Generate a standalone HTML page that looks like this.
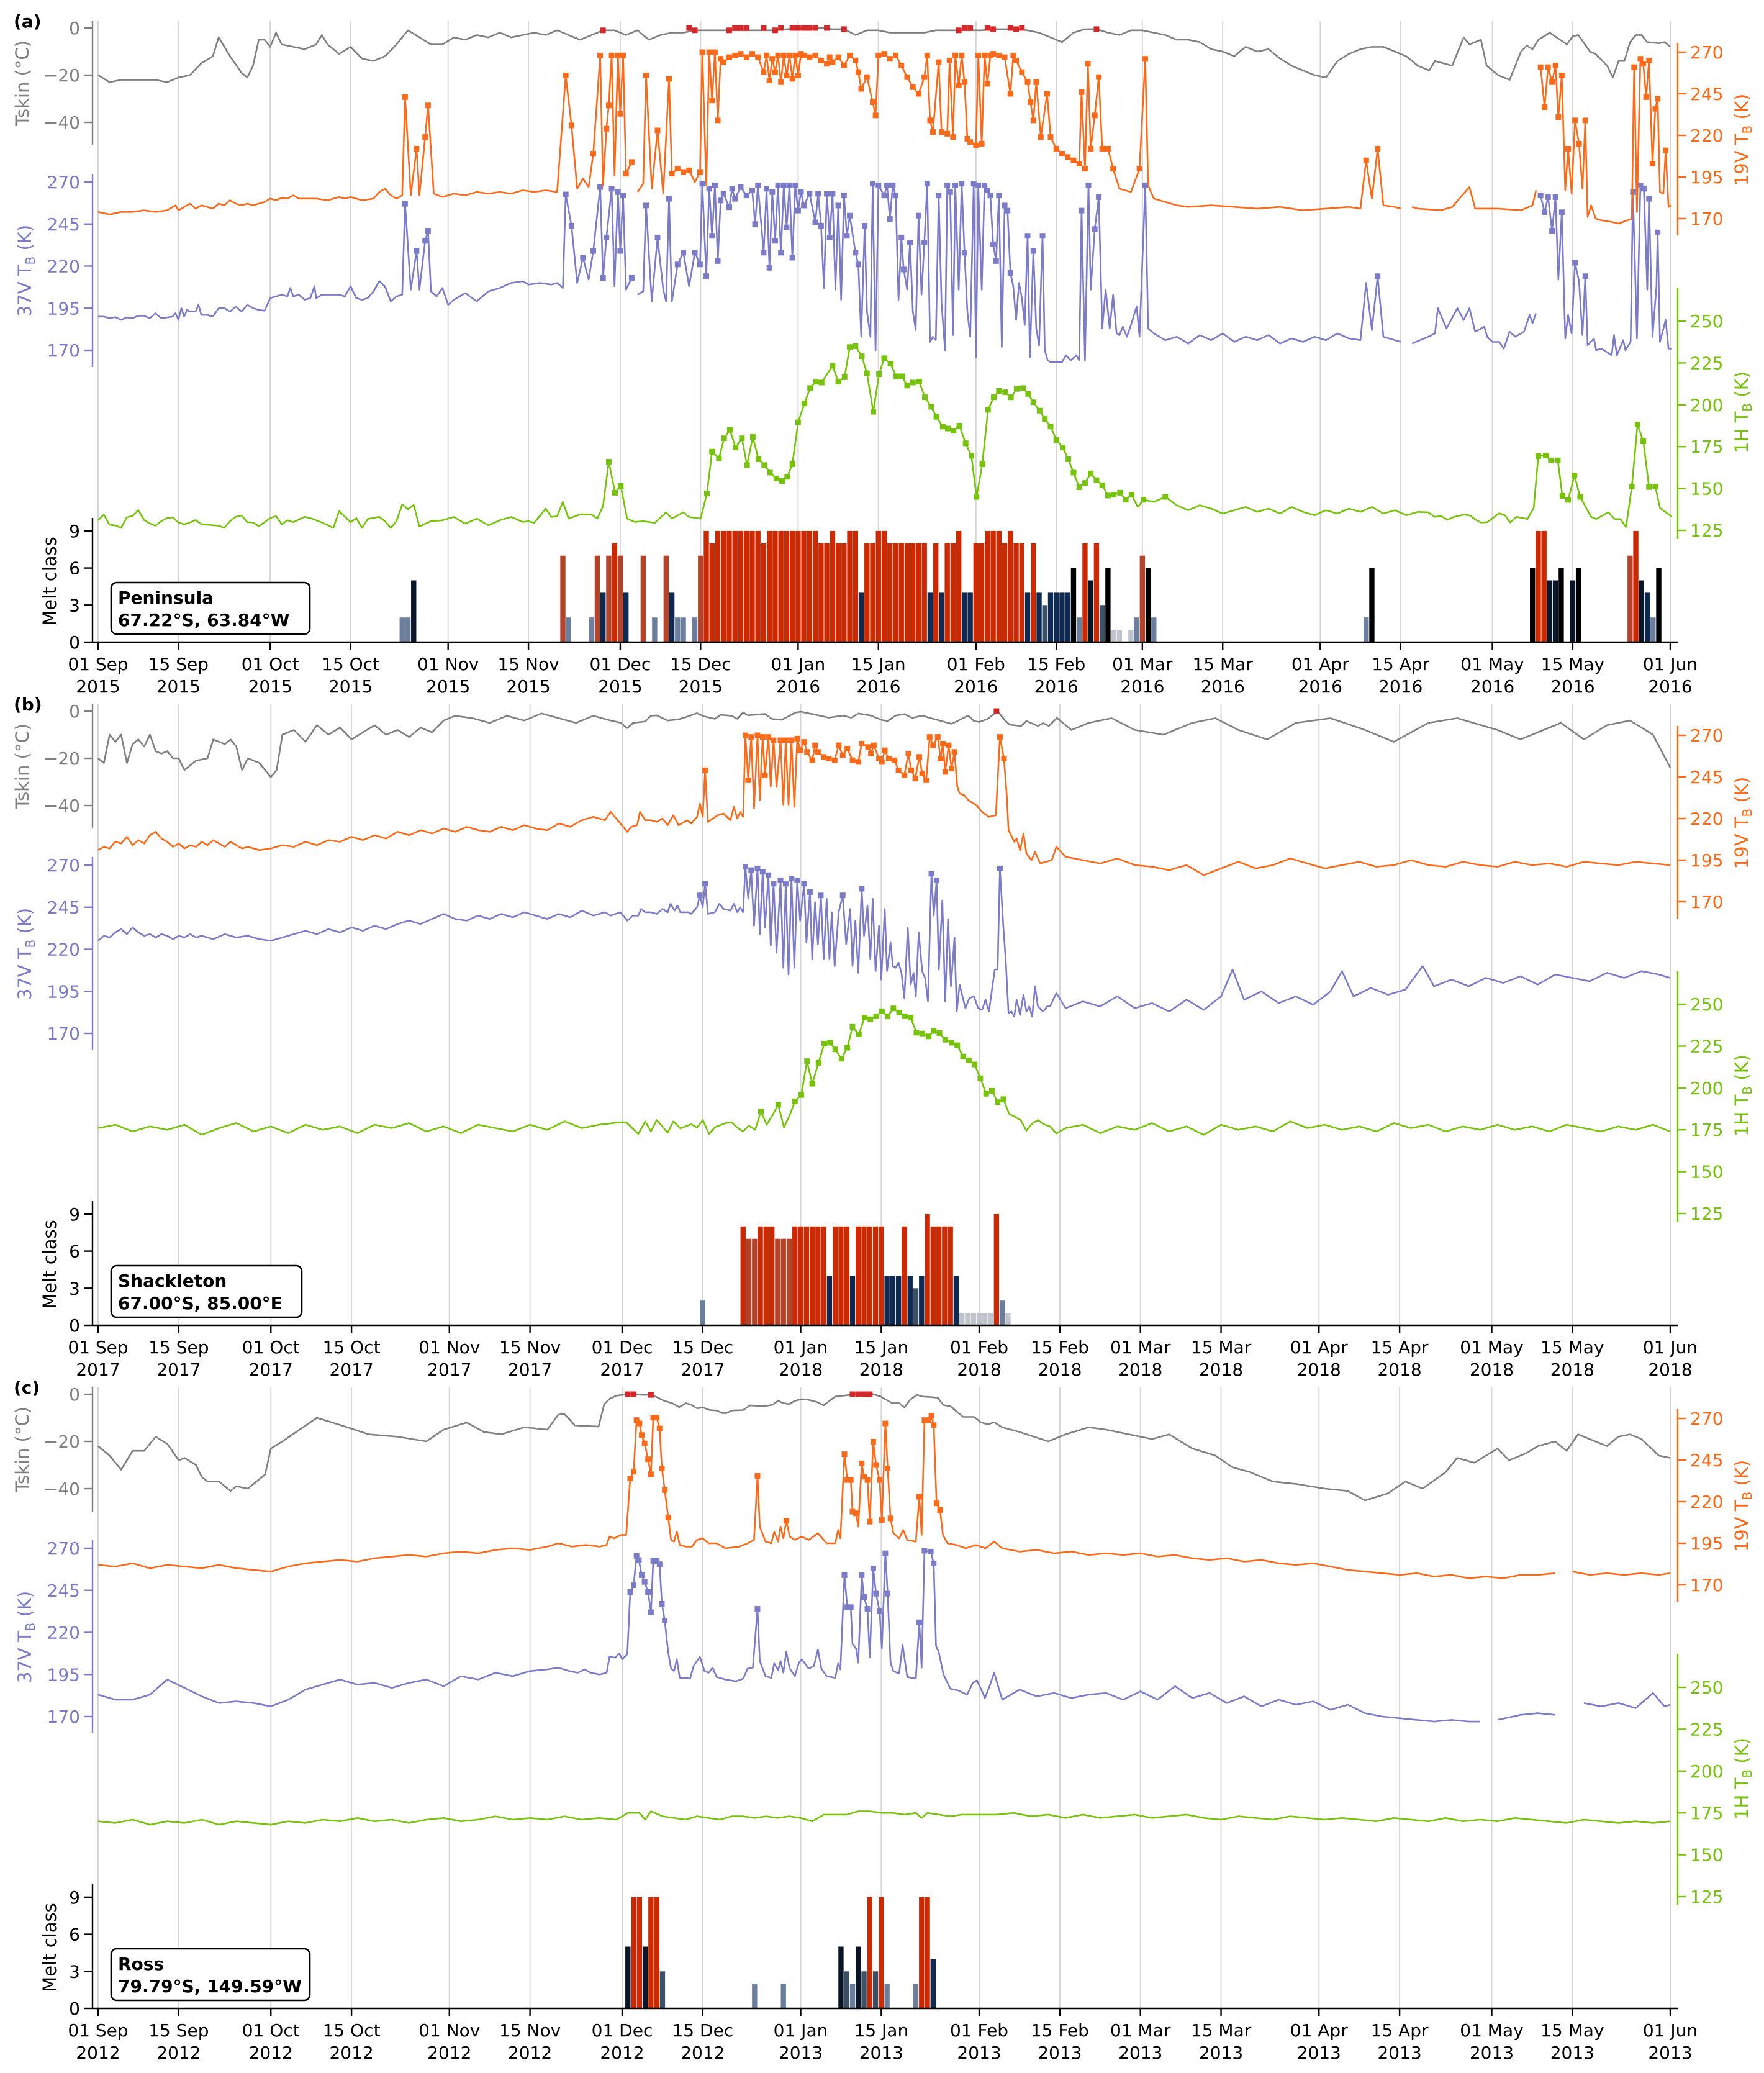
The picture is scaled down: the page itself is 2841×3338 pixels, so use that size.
<!DOCTYPE html>
<html><head><meta charset="utf-8"><title>Melt detection time series</title>
<style>
html,body{margin:0;padding:0;background:#fff;}
svg{display:block;font-family:"DejaVu Sans","Liberation Sans",sans-serif;}
</style></head>
<body>
<svg id="chart" xmlns="http://www.w3.org/2000/svg" width="2841" height="3338" viewBox="0 0 2841 3338"></svg>
<script>
// ===== Shared categories / ticks =====
const tickDaysA = [0,14,30,44,61,75,91,105,122,136,153,167,182,196,213,227,243,257,274];
const tickDaysBC = [0,14,30,44,61,75,91,105,122,136,153,167,181,195,212,226,242,256,273];
const tickMonths = ["01 Sep","15 Sep","01 Oct","15 Oct","01 Nov","15 Nov","01 Dec","15 Dec","01 Jan","15 Jan","01 Feb","15 Feb","01 Mar","15 Mar","01 Apr","15 Apr","01 May","15 May","01 Jun"];
const yearsA = ["2015","2016"], yearsB = ["2017","2018"], yearsC = ["2012","2013"];
const tskinTicks = [0,-20,-40];
const v19Ticks = [270,245,220,195,170];
const v37Ticks = [270,245,220,195,170];
const h1Ticks = [250,225,200,175,150,125];
const meltTicks = [0,3,6,9];

// ===== Panel (a) Peninsula =====
const tsA = [[0,-20],[2,-23],[4,-22],[6,-22],[8,-22],[10,-22],[12,-23],[14,-21],[16,-20],[18,-15],[20,-12],[21,-4],[23,-12],[25,-19],[26,-21],[27,-16],[28,-5],[29,-5],[30,-8],[31,-2],[32,-7],[34,-8],[36,-9],[38,-7],[39,-3],[40,-7],[42,-11],[44,-8],[46,-13],[48,-14],[50,-12],[52,-7],[54,-1],[56,-4],[58,-7],[60,-7],[62,-4],[64,-5],[66,-3],[68,-4],[70,-2],[72,-4],[74,-3],[76,-2],[78,-3],[80,-1],[82,-3],[84,-5],[86,-3],[88,-1],[90,-1],[92,-3],[94,-1],[96,-5],[98,-3],[100,-2],[102,-2],[104,-1],[106,-1],[110,-1],[114,-1],[118,-1],[120,-0.5],[124,0],[126,0],[128,-0.5],[130,-0.5],[132,-3],[134,-1],[136,-1],[138,-2],[140,-2],[142,-2],[144,-2],[146,-1],[150,-1],[154,-1],[156,-0.5],[160,-0.5],[162,-1],[164,-2],[166,-4],[168,-6],[170,-2],[172,-0.5],[174,-0.5],[176,-2],[178,-3],[180,-1],[182,-1],[184,-2],[186,-3],[188,-5],[190,-5],[192,-6],[194,-9],[196,-10],[198,-12],[200,-8],[202,-10],[204,-9],[206,-13],[208,-16],[210,-18],[212,-20],[214,-21],[216,-14],[218,-11],[220,-9],[222,-8],[224,-8],[226,-10],[228,-12],[230,-16],[232,-18],[233,-14],[236,-16],[238,-4],[239,-7],[241,-5],[242,-16],[244,-20],[246,-22],[248,-10],[249,-7.5],[250,-9],[251,-5],[253,-2],[256,-7],[257,-3.5],[258,-3],[260,-10],[261,-11],[263,-16],[264,-21],[265,-14],[266,-14],[267,-6],[268,-3],[269,-3],[270,-6],[272,-6.5],[273,-6],[274,-8]];
const redA = [88,103,104,110,111,112,113,116,118,119,121,122,123,124,125,127,130,150,151,152,155,156,159,160,161,174];
const v19A = [[0,174],[2,172.5],[4,174],[6,174],[8,175],[10,174],[12,175],[13.5,178],[14,175],[15,177],[16,179],[17,176],[18,178],[19,177],[20,176],[21,179],[22,178],[23,181],[24,179],[25,178],[26,179],[27,178],[28,179],[29,180],[30,182],[31,181],[32,182.5],[33,182],[34,184],[35,182],[36,182],[38,182],[40,181],[42,183],[43,182],[44,183],[46,181],[48,182],[49,186],[50,188],[51,184],[52,182],[53,184],[53.5,243],[54.5,184],[55.5,212],[56,184],[57,219],[57.5,238],[58.5,185],[60,183],[62,185],[64,184],[66,186],[68,185],[70,186],[72,185],[74,187],[76,186],[78,187],[80,186],[81.5,256],[82.5,226],[83.5,188],[84.5,194],[85.5,189],[86.3,209],[87.5,268],[88,190],[88.6,224],[89,238],[89.5,268],[90,196],[90.6,268],[91,233],[91.5,268],[92,197],[93,204],[93.5,null],[94,186],[95,191],[95.5,256],[96.5,188],[97.5,223],[98.5,185],[99.5,254],[100,197],[101,200],[102,198],[103,199],[104,192],[104.9,198],[105.3,270],[106,190],[106.5,270],[107,241],[107.5,270],[108,229],[108.5,266],[109,264],[110,267],[111,268],[112,269],[113,267],[114,269],[115,267],[116,258],[116.5,268],[117,253],[117.5,266],[118,258],[118.5,268],[119,252],[119.5,268],[120,256],[120.5,268],[121,254],[121.5,268],[122,256],[122.5,269],[123,268],[124,267],[125,268],[126,265],[127,263],[127.5,267],[128,264],[129,267],[130,262],[131,268],[132,265],[132.5,258],[133,248],[134,255],[135,240],[135.5,232],[136,268],[137,269],[138,266],[139,268],[140,262],[141,255],[142,249],[143,245],[144,255],[144.5,268],[145,229],[145.5,222],[146.5,264],[147,222],[148,221],[148.4,265],[149,219],[149.4,268],[150,250],[150.5,268],[151,252],[151.5,218],[152,216],[153,214],[153.4,268],[154,215],[154.5,268],[155,251],[155.5,268],[156,269],[157,268],[158,267],[159,245],[159.5,268],[160,265],[161,258],[162,252],[162.5,240],[163,229],[163.5,252],[164.3,219],[165.4,245],[166,219],[167,212],[168,209],[169,207],[170,205],[171,203],[171.4,246],[172,200],[172.5,263],[173,212],[173.7,232],[174.4,255],[175,212],[176,212],[176.9,200],[178,188],[180,186],[181.5,200],[182.5,266],[183,190],[184,182],[186,180],[188,178],[190,177],[194,178],[198,177],[202,176],[206,177],[210,175],[214,176],[218,177],[220,176],[221,205],[222,182],[223,212],[224,178],[226,177],[227,176],[228,null],[229,177],[230,176],[234,175],[236,177],[239,189],[240,176],[244,176],[248,175],[250,178],[250.6,187],[251,null],[251.4,261],[252.1,237],[252.7,261],[253.4,252],[254,262],[254.5,231],[255.1,256],[255.7,187],[256.2,212],[256.8,185],[257.4,229],[258.1,215],[258.7,188],[259.2,229],[259.6,171],[260.2,178],[261,170],[262,169],[263.8,168],[265,167],[267.3,170],[267.7,261],[268.2,174],[268.8,266],[269.3,263],[269.8,243],[270.3,265],[270.9,203],[271.4,236],[271.8,242],[272.2,186],[272.8,185],[273.2,211],[273.7,177],[274.2,178]];
const v37A = [[0,190],[1,190],[2,189],[3,189.7],[4,188],[5,189.5],[6,189],[7,190.5],[8,190.5],[9,189],[10,192],[11,189],[12,189.5],[13,190],[13.5,192],[14,188],[14.5,195],[15,190],[15.5,194],[16,193],[17,193],[17.5,197],[18,191],[19,191],[20,190],[21,195],[22,195],[23,193],[24,196],[25,193],[26,197],[27,195],[28,194],[29,193.5],[30,201],[31,202],[32,203],[33,202],[33.5,207],[34,202],[35,203],[36,200],[37,201],[37.7,208],[38,201],[39,203],[40,203],[42,203],[43,202],[44,208],[45,201],[46,200],[47,201],[48,205],[49,211],[50,208],[51,199],[52,202],[53,203],[53.5,257],[54.5,206],[55.5,229],[56,206],[57,235],[57.5,241],[58,205],[59,202],[60,207],[61,197],[62,200],[64,204],[66,199],[68,205],[70,207],[72,210],[74,211],[75,209],[77,210],[79,209],[80,210],[81,207],[81.5,262.6],[82.5,244],[83.5,210],[84.5,225],[85.5,212],[86.3,229],[87.5,267],[88,213],[88.6,237],[89.5,266],[90,208],[90.6,264],[91,229],[91.5,262],[92,206],[93,213],[93.5,null],[94,203],[95,205],[95.5,256],[96.5,199],[97.5,237],[98.5,206],[99,199],[99.5,260],[100,199],[101,221],[102,228],[103,208],[104,228],[104.9,221],[105.3,269],[106,214],[106.5,266],[107,238],[107.5,268],[108,223],[108.5,259],[109,263],[110,255],[110.5,266],[111,260],[112,267],[113,262],[114,265],[114.5,245],[115,268],[116,228],[116.5,266],[117,219],[117.5,264],[118,235],[118.5,268],[119,228],[119.5,268],[120,243],[120.5,268],[121,225],[121.5,268],[122,253],[122.5,264],[123,256],[124,263],[125,246],[125.5,263],[126,244],[126.5,207],[127,263],[127.5,237],[128,263],[128.5,206],[129,256],[129.5,200],[130,262],[130.5,238],[131,250],[132,228],[132.5,221],[133,178],[133.6,244],[134,193],[134.6,178],[135,269],[135.5,170],[136,268],[137,262],[137.5,268],[138,248],[138.5,268],[139,262],[139.5,200],[140,237],[140.4,218],[141,206],[141.5,234],[142,193],[142.5,182],[143,250],[143.5,203],[144,234],[144.5,269],[145,175],[145.5,178],[146,176],[146.5,262],[147,198],[147.6,170],[148,268],[148.5,264],[149,179],[149.4,268],[150,206],[150.5,269],[151,228],[151.5,193],[152,178],[152.6,269],[153,166],[153.4,268],[154,206],[154.5,268],[155,265],[155.5,262],[156,233],[156.5,223],[157,262],[157.5,172],[158,256],[158.5,253],[159,216],[159.5,208],[160,188],[160.5,210],[161,201],[161.5,185],[162,238],[162.4,166],[163,229],[163.5,183],[164,173],[164.6,238],[165,170],[165.5,164],[166,163],[168,163],[168.7,167],[169.5,164],[170.5,167],[171,164],[171.4,253],[172,164],[172.6,268],[173,206],[173.7,242],[174.4,261],[175,183],[175.6,206],[176.3,183],[176.9,203],[177.5,180],[178,179],[178.6,184],[179.3,178],[180,185],[181,196],[181.5,178],[182.5,268],[183,183],[184,180],[186,176],[188,178],[190,174],[192,179],[194,176],[196,180],[198,175],[200,178],[202,176],[204,179],[206,174],[208,177],[210,175],[212,178],[214,176],[216,180],[218,177],[220,176],[221,210],[222,182],[223,214],[224,178],[226,176],[227,175],[228,null],[229,174],[231.8,178],[233,180],[233.5,195],[235,183],[236.9,195],[238,188],[239,195],[240,181],[241.6,184],[242.1,178],[243,175],[244.2,175],[245,171],[246,181],[247,178],[248.5,181],[249.5,191],[250,186],[250.6,192],[251,null],[251.4,262],[252.1,252],[252.7,261],[253.4,241],[254,261],[254.5,212],[255.1,252],[255.7,177],[256.2,191],[256.8,180],[257.4,222],[258.1,211],[258.7,179],[259.2,214],[259.6,173],[260.7,177],[261.1,170],[262,171],[263.8,167],[264.2,179],[264.7,167],[265.8,176],[266.2,170],[267.1,175],[267.5,264],[268.2,177],[268.8,268],[269.4,266],[270,206],[270.3,260],[270.9,178],[271.6,208],[271.8,240],[272.2,175],[273.2,188],[273.7,171],[274.3,171]];
const h1A = [[0,131],[1,134.4],[2,128.3],[3,128],[4,126.5],[5,132.8],[6,133.6],[7,137.1],[8,131.2],[9,129.1],[10,127.8],[11,130.5],[12,132.3],[13,132.8],[14,129.7],[15,128.6],[16,129.7],[17,131.2],[18,128.6],[21,127.8],[22,126.5],[23,130.5],[24,133.1],[25,133.9],[26,129.9],[27,129.7],[28,127.5],[30,132.3],[31,133.6],[32,128.6],[33,131],[34,129.9],[36,133.1],[37,132.3],[39,129.7],[41,126.5],[42,136.5],[44,129.9],[45,132.3],[46,126.5],[47,131.8],[49,133.1],[50,130.5],[51,126.5],[52,130.5],[53,140.5],[54,137.6],[55,140.2],[56,127.3],[58,130.5],[60,131],[62,133],[64,129],[66,132],[68,128],[70,131],[72,133],[74,130],[75,130.5],[76,129.5],[78,138],[79,133],[80,133.5],[81,142],[82,132],[84,134.5],[86,134.5],[87,132],[88,139.5],[89,166],[90.1,147.5],[91.1,151.5],[92.2,132],[93.5,130],[95,130.5],[97,129.5],[99,135.8],[100,132],[102,135.8],[103,133],[105,132],[106.1,147],[107,172],[108.2,168],[109.1,180],[110.1,185],[111.1,174.5],[112.2,180],[113.1,164],[114.1,180.8],[115.1,167.5],[116.1,164],[117.1,159.5],[118.2,156],[119.2,154.5],[120.1,157],[121,164.5],[122,189.5],[123.1,200.8],[124.1,210],[125.1,213.8],[126.1,213.3],[128,223.3],[129,213.8],[130.1,216.5],[131,234.5],[132,235],[133.1,229],[134,218.8],[135.1,195.8],[136.1,218.3],[137,227.8],[138.1,224.5],[139.1,217],[140.1,217],[141,211.5],[142,213.3],[143.1,213.8],[144.1,204.5],[145.2,198.8],[146.1,192.8],[147.2,187],[148.1,185.8],[149.1,184.5],[150.1,187.5],[151.2,177],[152.2,169.5],[153.1,145],[154.1,164.5],[155.1,197],[156.1,204.5],[157,208.3],[158.1,207.5],[159.1,204.5],[160.1,209.5],[161.2,210],[162.1,206.5],[163,201.5],[164.1,196.5],[165,191.5],[166,187],[167,179],[168.1,174.5],[169.1,167.5],[170,159.5],[171,150.8],[172,153.3],[173,159],[174,155],[175,152],[176,145.8],[177,146.3],[178.1,147.5],[179.1,143.3],[180.1,146.3],[181.2,139],[182.2,143.3],[184,142],[186,145],[188,140],[190,137],[192,140],[194,138],[196,135],[198,137],[200,139],[202,136],[204,138],[206,135],[208,139],[210,136],[212,134],[214,137],[216,135],[218,138],[220,136],[222,139],[224,135],[226,137],[228,134],[230,136],[231.8,135.8],[233,133],[234,133.6],[235.2,131.3],[236.3,133],[238,134.4],[239.1,133.9],[240.1,131.3],[241,129.7],[242.1,129.9],[244.2,135.2],[245.2,133.9],[246.1,129.7],[247.2,133.1],[249.1,131.8],[250.2,138.4],[251,169.4],[252.3,169.7],[253.2,166.8],[254.4,166.8],[255.2,145.6],[256.2,143.2],[257.3,157.7],[258.3,145],[260.2,133.1],[261.1,131.8],[263.2,135.8],[264.3,131.8],[265.3,131.8],[266.3,127],[267.3,151.1],[268.3,188.2],[269.3,178.2],[270.3,150.9],[271.4,151.1],[272.2,138.4],[274.3,133.1]];
const meltA = [[53,2],[54,2],[55,5],[81,7],[82,2],[86,2],[87,7],[88,4],[89,7],[90,8],[91,7],[92,4],[95,7],[97,2],[99,7],[100,4],[101,2],[102,2],[104,2],[105,7],[106,9],[107,8],[108,9],[109,9],[110,9],[111,9],[112,9],[113,9],[114,9],[115,9],[116,8],[117,9],[118,9],[119,9],[120,9],[121,9],[122,9],[123,9],[124,9],[125,9],[126,8],[127,8],[128,9],[129,8],[130,8],[131,9],[132,9],[133,4],[134,8],[135,8],[136,9],[137,9],[138,8],[139,8],[140,8],[141,8],[142,8],[143,8],[144,8],[145,4],[146,8],[147,4],[148,8],[149,8],[150,9],[151,4],[152,4],[153,8],[154,8],[155,9],[156,9],[157,9],[158,8],[159,9],[160,8],[161,8],[162,4],[163,8],[164,4],[165,3],[166,4],[167,4],[168,4],[169,4],[170,6],[171,2],[172,8],[173,5],[174,8],[175,3],[176,6],[177,1],[178,1],[180,1],[181,2],[182,7],[183,6],[184,2],[221,2],[222,6],[250,6],[251,9],[252,9],[253,5],[254,5],[255,6],[257,5],[258,6],[267,7],[268,9],[269,5],[270,4],[271,2],[272,6]];

// ===== Panel (b) Shackleton =====
const tsB = [[0,-20],[1,-22],[2,-10],[3,-13],[4,-10],[5,-22],[6,-14],[7,-12],[8,-15],[9,-10],[10,-17],[11,-18],[12,-17],[13,-20],[14,-20],[15,-25],[17,-21],[19,-20],[20,-12],[22,-14],[23,-12],[24,-15],[25,-25],[26,-20],[28,-22],[30,-28],[31,-25],[32,-10],[34,-8],[36,-13],[38,-6],[40,-10],[42,-7],[44,-12],[46,-9],[48,-6],[50,-10],[52,-8],[54,-11],[56,-7],[58,-9],[60,-4],[62,-2],[65,-3],[68,-5],[71,-2],[74,-4],[77,-1],[80,-3],[83,-5],[86,-2],[89,-4],[90.7,-4.9],[91.9,-7.2],[92.9,-5],[95,-4.4],[96,-2],[97,-1.8],[98.9,-4],[100.8,-3.5],[102,-2.6],[104,-0.9],[105.2,-2.2],[107.1,-3.3],[108.1,-1.6],[110,-2],[111,-3.3],[112,-0.6],[112.9,-1.8],[115.8,-1.2],[117,-3.3],[118.7,-3.7],[121.1,-0.6],[122.1,-0.3],[124.5,-1.5],[126.9,-2.8],[129.3,-1.9],[130.8,-2.8],[132,-1],[134.2,-1.9],[136.1,-3.8],[137.1,-4.2],[138.5,-1.9],[140,-1.3],[141.4,-2.9],[143.1,-1.9],[144.3,-2.8],[145.8,-3.8],[148.2,-5.4],[149.2,-4.2],[151.1,-1.9],[152.1,-4.2],[153,-4.6],[154.5,-3.3],[156.2,0],[157.4,-3.7],[158.3,-5.8],[160.3,-6.3],[161.2,-4.2],[163.2,-6.3],[164.1,-5.1],[165.1,-6.3],[166.5,-2.9],[169,-8],[172,-5],[176,-3],[180,-8],[185,-10],[190,-5],[194,-3],[198,-8],[203,-12],[208,-5],[214,-3],[220,-8],[225,-13],[231,-5],[236,-3],[243,-8],[247,-12],[254,-5],[258,-12],[262,-6],[266,-4],[270,-10],[273,-24]];
const redB = [156];
const v19B = [[0,201],[1,203],[2,202],[3,206],[4,205],[5,209],[6,204],[7,207],[8,205],[9,210],[10,212],[11,208],[12,206],[13,203],[14,205],[15,202],[16,204],[17,203],[18,206],[19,204],[20,207],[21,205],[22,203],[23,206],[24,204],[25,202],[26,203],[28,201],[30,202],[32,204],[34,203],[36,206],[38,204],[40,207],[42,206],[44,209],[46,207],[48,210],[50,208],[52,212],[54,210],[56,213],[58,211],[60,214],[62,212],[64,215],[66,213],[68,212],[70,215],[72,213],[74,216],[76,214],[78,213],[80,217],[82,215],[84,219],[86,221],[88,219],[89,224],[90.7,217],[91.9,212],[92.6,215],[93.6,216],[94.1,224],[95,219],[96,219],[97,218],[98,220],[98.9,216],[99.9,222],[100.8,216],[102.3,219],[103,217],[104,221],[104.5,229],[105,221],[105.4,249],[105.9,218],[107.6,222],[108.6,223],[109.8,219],[110.4,227],[111,220],[111.5,224],[112,221],[112.4,270],[112.9,243],[113.4,269],[113.9,226],[114.5,270],[114.9,231],[115.4,269],[115.8,246],[116.4,269],[116.8,239],[117.3,267],[117.8,239],[118.5,267],[119,228],[119.4,267],[119.9,228],[120.4,267],[120.9,227],[121.4,268],[121.9,261],[122.6,266],[123.1,260],[124,255],[124.5,264],[125,260],[126,257],[126.9,256],[127.9,255],[128.6,264],[129.3,258],[130.1,262],[131,255],[132,254],[132.6,265],[133.7,263],[134.2,259],[134.7,264],[135.6,256],[136.1,254],[136.6,261],[137.3,256],[138.3,255],[139,249],[140,246],[140.7,259],[141.2,249],[141.9,244],[142.6,257],[143.1,247],[143.8,243],[144.4,269],[145,264],[145.8,269],[146.3,256],[146.7,265],[147.1,248],[147.7,264],[148.2,250],[148.7,260],[149.2,239],[149.6,235],[150.4,234],[151.1,231],[152.5,228],[153.5,224],[154.7,221],[155.9,222],[156.6,269],[157.3,256],[157.8,233],[158.1,213],[159.1,206],[159.5,208],[160.1,201],[160.7,211],[161.2,199],[162.1,195],[162.7,200],[163.6,193],[165.6,195],[166.4,203],[168,197],[171,195],[174,193],[177,196],[180,192],[183,191],[186,189],[189,192],[192,186],[195,190],[198,194],[201,190],[204,192],[207,196],[210,193],[213,190],[216,192],[219,194],[222,191],[225,192],[228,195],[231,192],[234,191],[237,194],[240,192],[243,191],[246,194],[249,192],[252,193],[255,191],[258,194],[261,193],[264,192],[267,194],[270,193],[273,192]];
const v37B = [[0,225],[1,228],[2,227],[3,230],[4,232],[5,229],[6,233],[7,230],[8,228],[9,229],[10,227],[11,229],[12,228],[13,226],[14,228],[15,227],[16,229],[17,227],[18,228],[20,226],[22,229],[24,227],[26,228],[28,226],[30,225],[32,227],[34,229],[36,231],[38,229],[40,232],[42,230],[44,233],[46,231],[48,234],[50,232],[52,235],[54,237],[56,235],[58,238],[60,241],[62,238],[64,237],[66,240],[68,238],[70,241],[72,239],[74,242],[76,240],[78,238],[80,241],[82,239],[84,243],[86,240],[88,242],[89,240],[90.7,242],[91.9,237],[92.9,240],[93.8,240],[94.3,244],[95,242],[96,242],[97,241],[98,244],[98.9,242],[99.4,247],[100.1,243],[100.6,246],[101.1,242],[102.5,242],[103,241],[104,245],[104.5,252],[105,245],[105.4,259],[105.9,241],[107.1,242],[107.9,247],[108.6,244],[109.8,243],[110.4,247],[111,242],[111.5,245],[112,242],[112.4,269],[112.9,250],[113.4,267],[113.9,234],[114.5,268],[114.9,229],[115.4,266],[115.8,233],[116.4,264],[116.8,222],[117.3,259],[117.8,218],[118.5,261],[119,209],[119.4,259],[119.9,205],[120.4,262],[120.9,209],[121.4,261],[121.9,237],[122.6,259],[123,224],[123.6,254],[124,214],[124.5,248],[125,223],[125.5,252],[126,214],[126.5,250],[127,214],[127.4,242],[127.9,210],[128.6,242],[129.3,252],[129.9,223],[130.6,244],[131,210],[131.5,237],[132,206],[132.6,256],[133,228],[133.6,246],[134.1,214],[134.5,250],[135,207],[135.6,234],[136,202],[136.6,244],[137,207],[137.6,224],[138,210],[138.5,209],[139,212],[139.5,206],[140,191],[140.6,233],[141.1,199],[141.6,206],[142,192],[142.5,230],[143.1,207],[143.6,203],[144.1,189],[144.7,265],[145.1,240],[145.6,261],[146,208],[146.6,249],[147.1,189],[147.6,238],[148.1,198],[148.7,227],[149.1,183],[149.6,199],[150.6,185],[151.3,191],[152.1,192],[152.8,185],[153.5,184],[154.1,190],[154.7,183],[155.7,208],[156.2,208],[156.6,268],[157.2,233],[157.6,214],[158.1,182],[158.6,183],[159.1,180],[159.5,190],[160.1,181],[160.7,193],[161.2,183],[161.7,186],[162.2,180],[162.7,198],[163.2,186],[164.1,183],[164.8,186],[165.3,186],[166.4,194],[168,185],[171,189],[174,186],[177,192],[180,185],[183,188],[186,183],[189,190],[192,184],[195,192],[197,208],[199,190],[202,195],[205,188],[208,192],[211,187],[214,195],[216,207],[218,192],[221,197],[224,193],[227,196],[230,210],[232,198],[235,202],[238,198],[241,203],[244,200],[247,204],[250,199],[253,205],[256,203],[259,201],[262,206],[265,203],[268,207],[271,205],[273,203]];
const h1B = [[0,176],[3,178],[6,174],[9,177],[12,175],[15,178],[18,172],[21,176],[24,179],[27,174],[30,177],[33,173],[36,178],[39,175],[42,177],[45,173],[48,178],[51,176],[54,179],[57,174],[60,177],[63,173],[66,178],[69,176],[72,174],[75,178],[78,175],[81,180],[84,176],[87,178],[90.7,179.5],[91.7,179.5],[93.8,172.5],[95,180],[96,174],[97,180.8],[98.9,173.3],[99.9,180],[101.1,175.8],[103,178.3],[104,176.3],[105,180.8],[106.1,172.5],[107.1,176.5],[109,179],[110,179.5],[111,176.3],[112,174],[113,177.5],[114.1,175],[115.1,186],[116.1,178],[117,183],[118.1,190],[119.1,176.5],[120.1,183.8],[121,192],[122.1,195.8],[123.1,216],[124,202.5],[125.1,215],[126.1,226.5],[127.1,227],[128,223],[129.1,217.5],[130.1,224],[131,236.5],[132.1,232],[133.1,242],[134.1,241],[135.1,242.8],[136.1,245.8],[137.1,242.8],[138.1,247.5],[139.1,245],[140.1,242.8],[141.1,242],[142.1,233],[143.1,232.5],[144.2,230.8],[145.1,234],[146.1,232.8],[147.1,228.8],[148.2,227],[149.2,225.5],[150.2,218.8],[151.2,216.5],[152.2,214],[153.2,205.8],[154.2,196.5],[155.2,198.3],[156.2,191.5],[157.2,193.3],[158.2,184.5],[159.2,182.8],[160.2,180.8],[161.2,174.5],[162.2,178.8],[163.2,180.8],[164.2,178.3],[165.3,177],[166.4,172.8],[168,176],[171,178],[174,173],[177,177],[180,175],[183,179],[186,174],[189,177],[192,172],[195,178],[198,175],[201,177],[204,174],[207,180],[210,176],[213,178],[216,175],[219,177],[222,174],[225,179],[228,176],[231,178],[234,174],[237,177],[240,175],[243,178],[246,175],[249,177],[252,174],[255,178],[258,176],[261,174],[264,177],[267,175],[270,178],[273,174]];
const meltB = [[105,2],[112,8],[113,7],[114,7],[115,8],[116,8],[117,8],[118,7],[119,7],[120,7],[121,8],[122,8],[123,8],[124,8],[125,8],[126,8],[127,4],[128,8],[129,8],[130,8],[131,4],[132,8],[133,8],[134,8],[135,8],[136,8],[137,4],[138,4],[139,4],[140,8],[141,4],[142,3],[143,4],[144,9],[145,8],[146,8],[147,8],[148,8],[149,4],[150,1],[151,1],[152,1],[153,1],[154,1],[155,1],[156,9],[157,2],[158,1]];

// ===== Panel (c) Ross =====
const tsC = [[0,-22],[2,-26],[4,-32],[6,-24],[8,-24],[10,-18],[12,-21],[14,-28],[15,-27],[17,-30],[18,-35],[19,-37],[21,-37],[23,-41],[24,-39],[26,-40],[29,-34],[30,-23],[32,-20],[35,-15],[38,-10],[42,-13],[47,-17],[52,-18],[57,-20],[60,-15],[64,-12],[67,-16],[70,-17],[74,-14],[78,-15],[79.9,-8.7],[80.9,-8.3],[81.8,-10.5],[82.8,-13.2],[86.9,-13.7],[87.9,-4.2],[88.8,-2],[90,-0.6],[92,0],[93.2,0.1],[94.4,-0.3],[95.8,-0.3],[96.8,-1],[98.3,-2.8],[99.7,-3.8],[100.9,-5.5],[102.1,-3.8],[103.1,-4.6],[104,-6],[105,-5.6],[106.2,-6.7],[107.4,-6.9],[108.4,-8],[109.1,-8],[110.1,-6.9],[112,-6.7],[113.2,-4.7],[115.6,-5.1],[117.1,-4.5],[118.1,-2.8],[119,-3.8],[120,-4.2],[121,-2.8],[122.2,-2.1],[123.4,-2.4],[124.8,-3.3],[126,-4.7],[127,-2.8],[128,-1],[130.6,-0.3],[131.1,0.1],[132.3,0.1],[134.2,0.3],[135.9,-1],[137.9,-3.8],[139.1,-3.8],[140,-5.6],[141,-2.4],[142.2,-0.3],[143.2,-1],[144.6,-1.2],[145.8,-1.5],[146.8,-4.6],[148,-5.1],[150.2,-9.6],[152.1,-9.6],[153.3,-11.9],[154.5,-12.8],[155.6,-11.9],[157,-14],[160,-16],[165,-20],[168,-17],[172,-14],[175,-15],[179,-17],[183,-19],[186,-17],[190,-23],[194,-26],[197,-31],[200,-33],[204,-37],[208,-38],[213,-40],[217,-41],[220,-45],[224,-42],[227,-37],[230,-40],[234,-33],[236,-27],[239,-29],[243,-23],[245,-28],[248,-25],[250,-22],[253,-20],[255,-24],[257,-17],[260,-20],[262,-22],[264,-18],[266,-17],[268,-19],[271,-26],[273,-27]];
const redC = [92,93,96,131,132,133,134];
const v19C = [[0,182],[3,181],[6,183],[9,180],[12,182],[15,181],[18,180],[21,182],[24,180],[27,179],[30,178],[33,181],[36,183],[39,184],[42,185],[45,184],[48,186],[51,187],[54,188],[57,187],[60,189],[63,190],[66,189],[69,191],[72,192],[75,191],[78,193],[79.9,195],[82.3,193],[84.7,194],[87.1,193],[88.3,194],[88.8,199],[89.6,198],[90.8,200],[91.7,200],[92.4,234],[93,238],[93.5,269],[94,267],[94.4,260],[94.9,255],[95.5,245.5],[96,236.5],[96.4,270.5],[97,270.5],[97.5,264],[97.9,240],[98.4,227],[99,210.5],[99.5,197],[100,196],[100.5,202],[101,194],[102.1,193],[103.1,193],[104,197],[105,198],[106,195],[107.4,195],[108.9,192],[111.3,193],[112.8,195],[113.9,197],[114.5,235.5],[114.9,205],[115.9,196],[116.9,195],[117.4,202],[118.1,196],[118.5,205],[119,198],[119.5,208.5],[120.1,199],[121,197],[122.2,199],[123.4,197],[125,201],[126.5,195],[128,195],[128.5,203],[128.9,198],[129.6,248.5],[130.1,233],[130.7,233],[131,214],[131.6,213],[132,205],[132.6,243],[133,235],[133.6,233],[134,208],[134.6,256],[135.1,242],[135.7,233],[136.1,209],[136.7,267],[137.1,240],[137.6,210],[138.1,201],[139.1,198],[139.8,203],[140.5,197],[142,196],[142.6,223],[143,200],[143.5,269],[144.2,269],[144.7,271.5],[145.1,266],[145.6,219],[146.2,215],[146.7,200],[147.5,195],[149,194],[150.7,192],[152.4,194],[154.1,192],[155.6,196],[157,192],[160,190],[163,191],[166,189],[169,190],[172,188],[175,189],[178,188],[181,189],[184,187],[187,188],[190,186],[193,185],[196,186],[199,184],[202,185],[205,183],[208,182],[211,183],[214,181],[217,179],[220,178],[223,177],[226,176],[229,177],[232,175],[235,176],[238,174],[241,175],[244,174],[247,176],[250,176],[253,177],[254.5,null],[256,178],[259,176],[262,177],[265,176],[268,177],[271,176],[273,177]];
const v37C = [[0,183],[3,180],[6,180],[9,183],[12,192],[15,187],[18,182],[21,178],[24,179],[27,178],[30,176],[33,180],[36,186],[39,189],[42,192],[45,189],[48,190],[51,187],[54,190],[57,192],[60,188],[63,194],[66,192],[69,196],[72,194],[75,197],[78,198],[79.9,199],[80.9,198],[81.8,197],[83.3,196],[84.5,198],[85.5,196],[87.1,195],[88.3,196],[88.8,205.5],[89.8,205],[90.5,207.5],[91,204],[91.9,207],[92.4,244],[93,248],[93.5,265.5],[93.9,263],[94.4,254],[94.9,250],[95.5,244],[96,232],[96.4,262.5],[97,262.5],[97.5,260.5],[97.9,237],[98.4,227],[99,208],[99.5,198.5],[100,197],[100.5,204],[101,193],[101.9,193],[102.8,192.5],[103.4,200],[104.5,205.5],[105.3,197],[106,196],[106.7,199],[107.4,193.5],[108.9,192],[110.8,191],[112,192.5],[112.8,198.5],[113.7,199],[114.5,234],[114.9,203],[115.9,194],[116.9,193],[117.4,201.5],[118.1,197.5],[118.5,203],[119,196],[119.5,208.5],[120.1,198.5],[121,194],[121.7,202],[122.2,204],[123.4,198.5],[124.3,200],[125,209.8],[125.6,198.5],[126.5,194],[128,193],[128.5,201.5],[128.9,198],[129.6,254],[130.1,235],[130.7,235],[131,213],[131.6,210.5],[132,202],[132.6,254],[133,241],[133.6,234],[134,205],[134.6,258],[135.1,243],[135.7,232.5],[136.1,210.5],[136.7,267],[137.1,243],[137.6,202],[138.1,197],[139.1,195.5],[139.7,212.5],[140.5,193.5],[142,192.5],[142.6,226],[143,199],[143.5,268.5],[144.6,268],[145.1,261],[145.5,212],[146,208],[146.8,195],[148,186.5],[149.4,185.5],[150.9,183],[151.9,190],[152.6,191.5],[153.3,186.5],[154,181],[154.8,188],[155.6,196],[157,180],[160,186],[163,182],[166,184],[169,181],[172,183],[175,184],[178,180],[181,185],[184,180],[187,188],[190,181],[193,184],[196,178],[199,182],[202,176],[205,180],[208,177],[211,179],[214,174],[217,177],[220,172],[223,170],[226,169],[229,168],[232,167],[235,168],[238,167],[240,167],[241,null],[243,168],[247,171],[250,172],[253,171],[255,null],[258,178],[261,176],[264,178],[267,175],[270,184],[272,176],[273,177]];
const h1C = [[0,170],[3,169],[6,171],[9,168],[12,170],[15,169],[18,171],[21,168],[24,170],[27,169],[30,168],[33,170],[36,169],[39,171],[42,170],[45,172],[48,170],[51,171],[54,169],[57,171],[60,172],[63,170],[66,171],[69,173],[72,171],[75,172],[78,171],[81,173],[84,171],[87,172],[90,171],[92,175],[94,175],[95,171],[96,176],[98,173],[100,172],[102,171],[104,173],[106,172],[108,171],[110,173],[112,173],[114,172],[116,173],[118,172],[120,173],[122,172],[124,170],[126,174],[128,174],[130,174],[132,176],[134,176],[136,175],[138,175],[140,174],[142,175],[143,172],[144,175],[146,174],[148,173],[150,174],[153,174],[156,174],[159,175],[162,173],[165,174],[168,172],[171,174],[174,172],[177,173],[180,174],[183,172],[186,173],[189,174],[192,172],[195,171],[198,173],[201,172],[204,171],[207,173],[210,172],[213,171],[216,172],[219,171],[222,170],[225,172],[228,171],[231,170],[234,172],[237,170],[240,171],[243,170],[246,172],[249,171],[252,170],[255,169],[258,171],[261,170],[264,169],[267,170],[270,169],[273,170]];
const meltC = [[92,5],[93,9],[94,9],[95,5],[96,9],[97,9],[98,3],[114,2],[119,2],[129,5],[130,3],[131,2],[132,5],[133,3],[134,9],[135,3],[136,9],[137,2],[142,2],[143,9],[144,9],[145,4]];

// ===== Styles / layout (not data) =====
const C_T = "#808080", C_19 = "#f96a1b", C_37 = "#7b7bc8", C_1H = "#76c20c";
const meltColors = {1:"#c0c4cc",2:"#6b7f9c",3:"#3d5166",4:"#0e2a52",5:"#0a1628",6:"#000000",7:"#b5432a",8:"#cc2900",9:"#cc2900"};
const XL = 158, XR = 2690, SPL = 149, SPR = 2702;
const NS = "http://www.w3.org/2000/svg";
const svg = document.getElementById("chart");

function mk(tag, attrs, parent, text) {
  const e = document.createElementNS(NS, tag);
  for (const k in attrs) e.setAttribute(k, attrs[k]);
  if (text !== undefined) e.textContent = text;
  (parent || svg).appendChild(e);
  return e;
}

const yT = v => 45 - v * 3.8;
const y19 = v => 352 - (v - 170) * 2.68;
const y37 = v => 564 - (v - 170) * 2.71;
const y1H = v => 854 - (v - 125) * 2.696;
const yM = c => 1034 - c * 19.9;

function drawSeries(g, pts, xf, yf, color, markTh, name) {
  let d = "", pen = false;
  pts.forEach(p => {
    if (p[1] === null) { pen = false; return; }
    d += (pen ? "L" : "M") + xf(p[0]).toFixed(1) + " " + yf(p[1]).toFixed(1);
    pen = true;
  });
  const path = mk("path", {d: d, fill: "none", stroke: color, "stroke-width": 2.6, "stroke-linejoin": "round"}, g);
  
  
  if (markTh !== null) {
    pts.forEach(p => {
      if (p[1] !== null && p[1] > markTh) {
        const m = mk("rect", {x: xf(p[0]) - 4.5, y: yf(p[1]) - 4.5, width: 9, height: 9, fill: color}, g);
        
        
      }
    });
  }
}

function drawPanel(cfg) {
  const g = mk("g", {transform: "translate(0," + cfg.dy + ")"});
  
  
  const last = cfg.ticks[cfg.ticks.length - 1];
  const xf = d => XL + d * (XR - XL) / last;

  cfg.ticks.forEach(t => {
    const l = mk("line", {x1: xf(t), x2: xf(t), y1: 34, y2: 1034, stroke: "#d6d6d6", "stroke-width": 2}, g);
    
    
  });

  cfg.melt.forEach(b => {
    const r = mk("rect", {x: xf(b[0]) - 4.2, y: yM(b[1]), width: 8.4, height: 1034 - yM(b[1]), fill: meltColors[b[1]]}, g);
    
    
  });

  drawSeries(g, cfg.h1, xf, y1H, C_1H, cfg.th1H, "tb-1h");
  drawSeries(g, cfg.v37, xf, y37, C_37, cfg.th37, "tb-37v");
  drawSeries(g, cfg.v19, xf, y19, C_19, cfg.th19, "tb-19v");
  drawSeries(g, cfg.ts, xf, yT, C_T, null, "tskin");
  const tsMap = {};
  cfg.ts.forEach(p => tsMap[Math.round(p[0])] = p[1]);
  cfg.red.forEach(d => {
    const v = tsMap[d] !== undefined ? tsMap[d] : 0;
    const m = mk("rect", {x: xf(d) - 4.5, y: yT(Math.min(v, 0)) - 4.5, width: 9, height: 9, fill: "#d62728"}, g);
    
    
  });

  function leftAxis(ticks, yf, top, bottom, color, name, fmt) {
    const a = mk("g", {}, g);
    
    
    mk("line", {x1: SPL, x2: SPL, y1: top, y2: bottom, stroke: color, "stroke-width": 2.4}, a);
    ticks.forEach(t => {
      mk("line", {x1: SPL - 14, x2: SPL, y1: yf(t), y2: yf(t), stroke: color, "stroke-width": 2.4}, a);
      mk("text", {x: SPL - 20, y: yf(t) + 10, "text-anchor": "end", "font-size": 28, fill: color}, a, fmt ? fmt(t) : String(t));
    });
  }
  leftAxis(tskinTicks, yT, 34, 234, C_T, "tskin-axis", t => t < 0 ? "\u2212" + Math.abs(t) : String(t));
  leftAxis(v37Ticks, y37, 280, 591, C_37, "tb-37v-axis");
  leftAxis(meltTicks, yM, 834, 1034, "#000", "melt-class-axis");

  function rightAxis(ticks, yf, top, bottom, color, name) {
    const a = mk("g", {}, g);
    
    
    mk("line", {x1: SPR, x2: SPR, y1: top, y2: bottom, stroke: color, "stroke-width": 2.4}, a);
    ticks.forEach(t => {
      mk("line", {x1: SPR, x2: SPR + 14, y1: yf(t), y2: yf(t), stroke: color, "stroke-width": 2.4}, a);
      mk("text", {x: SPR + 20, y: yf(t) + 10, "font-size": 28, fill: color}, a, String(t));
    });
  }
  rightAxis(v19Ticks, y19, 69, 379, C_19, "tb-19v-axis");
  rightAxis(h1Ticks, y1H, 463, 868, C_1H, "tb-1h-axis");

  const t1 = mk("text", {transform: "translate(46,134) rotate(-90)", "text-anchor": "middle", "font-size": 29, fill: C_T}, g, "Tskin (\u00B0C)");
   
  const t2 = mk("text", {transform: "translate(50,436) rotate(-90)", "text-anchor": "middle", "font-size": 29, fill: C_37}, g);
   
  mk("tspan", {}, t2, "37V T");
  mk("tspan", {"font-size": 20, dy: 6}, t2, "B");
  mk("tspan", {dy: -6}, t2, " (K)");
  const t3 = mk("text", {transform: "translate(90,936) rotate(-90)", "text-anchor": "middle", "font-size": 29, fill: "#000"}, g, "Melt class");
   
  const t4 = mk("text", {transform: "translate(2815,225) rotate(-90)", "text-anchor": "middle", "font-size": 29, fill: C_19}, g);
   
  mk("tspan", {}, t4, "19V T");
  mk("tspan", {"font-size": 20, dy: 6}, t4, "B");
  mk("tspan", {dy: -6}, t4, " (K)");
  const t5 = mk("text", {transform: "translate(2815,664) rotate(-90)", "text-anchor": "middle", "font-size": 29, fill: C_1H}, g);
   
  mk("tspan", {}, t5, "1H T");
  mk("tspan", {"font-size": 20, dy: 6}, t5, "B");
  mk("tspan", {dy: -6}, t5, " (K)");

  const xa = mk("g", {}, g);
  
  
  mk("line", {x1: SPL, x2: SPR, y1: 1034, y2: 1034, stroke: "#000", "stroke-width": 2.6}, xa);
  cfg.ticks.forEach((t, i) => {
    mk("line", {x1: xf(t), x2: xf(t), y1: 1034, y2: 1047, stroke: "#000", "stroke-width": 2.4}, xa);
    mk("text", {x: xf(t), y: 1079, "text-anchor": "middle", "font-size": 28, fill: "#000"}, xa, tickMonths[i]);
    mk("text", {x: xf(t), y: 1115, "text-anchor": "middle", "font-size": 28, fill: "#000"}, xa, i < 8 ? cfg.years[0] : cfg.years[1]);
  });

  const pl = mk("text", {x: 22, y: 44, "font-size": 28, "font-weight": "bold", fill: "#000"}, g, cfg.label);
   

  const bx = mk("g", {}, g);
  
  
  mk("rect", {x: 179, y: 938, width: cfg.boxW, height: 83, rx: 9, fill: "#fff", stroke: "#000", "stroke-width": 2.6}, bx);
  mk("text", {x: 190, y: 972, "font-size": 28, "font-weight": "bold", fill: "#000"}, bx, cfg.site);
  mk("text", {x: 190, y: 1008, "font-size": 28, "font-weight": "bold", fill: "#000"}, bx, cfg.coords);
}

drawPanel({name: "panel-a-peninsula", dy: 0, label: "(a)", ticks: tickDaysA, years: yearsA, ts: tsA, red: redA, v19: v19A, v37: v37A, h1: h1A, melt: meltA, th19: 196, th37: 212, th1H: 143, site: "Peninsula", coords: "67.22\u00B0S, 63.84\u00B0W", boxW: 320});
drawPanel({name: "panel-b-shackleton", dy: 1100, label: "(b)", ticks: tickDaysBC, years: yearsB, ts: tsB, red: redB, v19: v19B, v37: v37B, h1: h1B, melt: meltB, th19: 240, th37: 250, th1H: 185, site: "Shackleton", coords: "67.00\u00B0S, 85.00\u00B0E", boxW: 307});
drawPanel({name: "panel-c-ross", dy: 2200, label: "(c)", ticks: tickDaysBC, years: yearsC, ts: tsC, red: redC, v19: v19C, v37: v37C, h1: h1C, melt: meltC, th19: 205, th37: 220, th1H: 999, site: "Ross", coords: "79.79\u00B0S, 149.59\u00B0W", boxW: 320});
</script>
</body></html>
